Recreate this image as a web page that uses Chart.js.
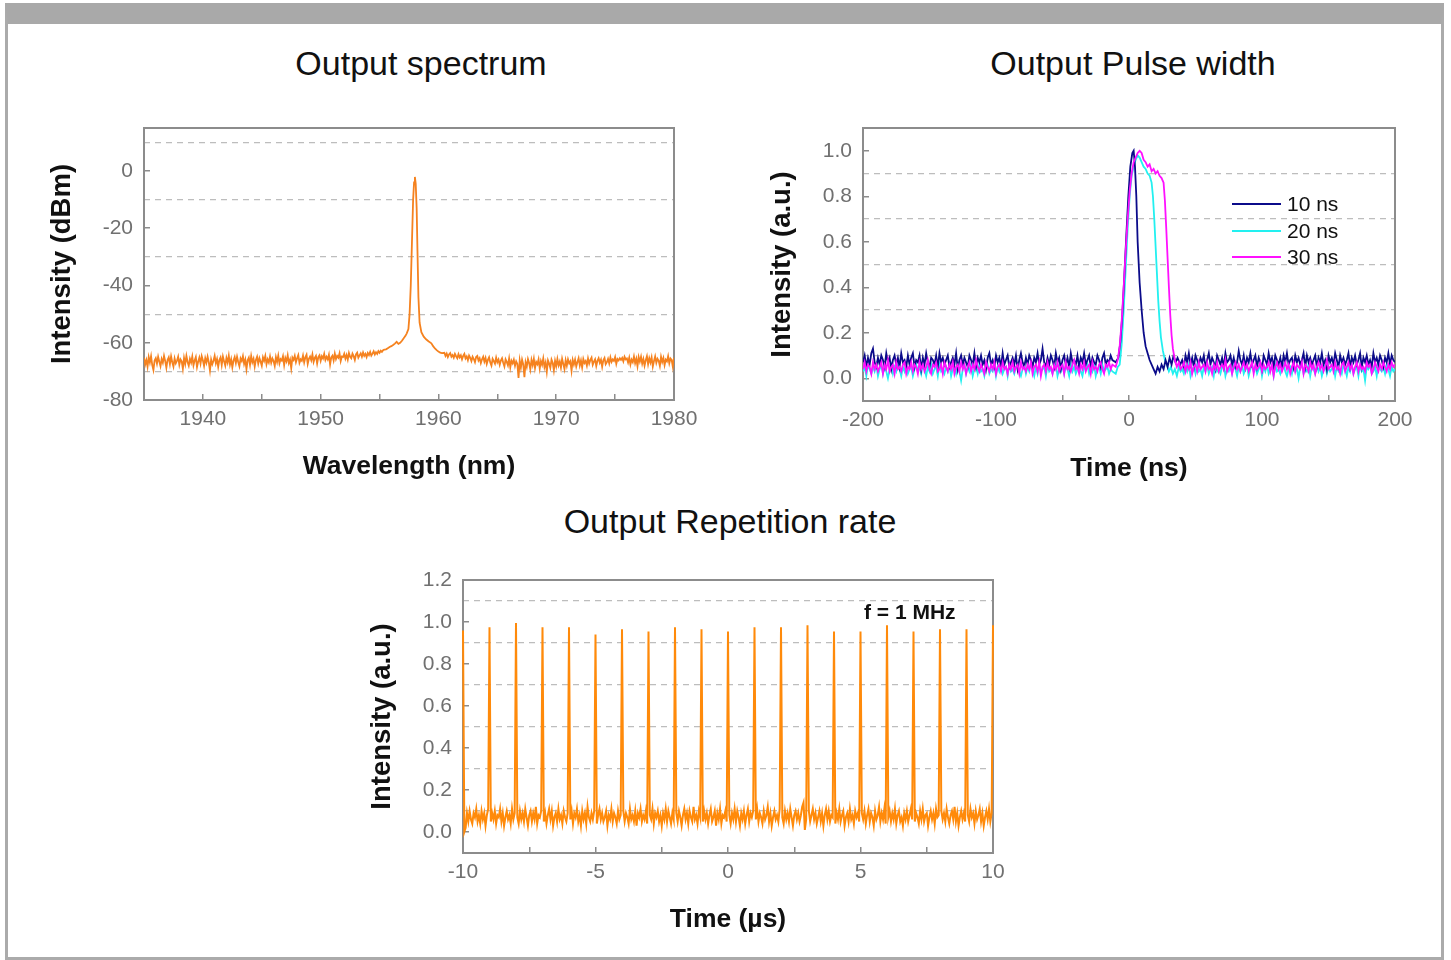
<!DOCTYPE html>
<html>
<head>
<meta charset="utf-8">
<script src="https://cdn.jsdelivr.net/npm/chart.js@4.4.1/dist/chart.umd.min.js"></script>
<style>
  body { margin: 0; width: 1451px; height: 960px; overflow: hidden; background: #fff;
         font-family: "Liberation Sans", Arial, Helvetica, sans-serif; position: relative; }
  #frame { position: absolute; left: 5px; top: 3px; width: 1433px; height: 933px;
           border: 3px solid #ababab; border-top: 21px solid #a9a9a9; }
  canvas { position: absolute; }
  .title { position: absolute; width: 600px; text-align: center; font-size: 34px; line-height: 34px; color: #111; }
  #legend { position: absolute; left: 1232px; top: 191px; font-size: 21px; color: #111; }
  #legend .row { display: flex; align-items: center; height: 26.5px; }
  #legend .swatch { width: 49px; height: 2px; margin-right: 6px; }
  #note { position: absolute; left: 864px; top: 601px; font-size: 21px; line-height: 21px; font-weight: bold; color: #111; }
</style>
</head>
<body>
<div id="frame"></div>
<div class="title" style="left:121px;top:46px">Output spectrum</div>
<div class="title" style="left:833px;top:46px">Output Pulse width</div>
<div class="title" style="left:430px;top:504px">Output Repetition rate</div>
<canvas id="spectrum" width="720" height="404" style="left:0;top:98px"></canvas>
<canvas id="pulse" width="731" height="404" style="left:720px;top:98px"></canvas>
<canvas id="reprate" width="740" height="410" style="left:300px;top:550px"></canvas>
<div id="legend"></div>
<div id="note">f = 1 MHz</div>

<script>
// ---------- output spectrum (dBm vs nm) ----------
const specXMajor = [1940, 1950, 1960, 1970, 1980];
const specXMinor = [1935, 1945, 1955, 1965, 1975];
const specYTicks = [-80, -60, -40, -20, 0];
const specYGrid = [-70, -50, -30, -10, 10];

const specStep = 0.1;
const specLeftStart = 1935;
const specLeft = [
  -65.2, -67.6, -66.1, -68.4, -65.0, -66.9, -64.7, -67.8, -69.5, -66.2,
  -65.4, -67.3, -64.9, -66.6, -68.2, -65.7, -67.0, -64.6, -66.4, -68.7,
  -66.0, -65.1, -67.5, -64.8, -66.8, -68.3, -65.5, -67.2, -66.3, -64.9,
  -67.7, -65.8, -66.5, -69.1, -65.3, -67.4, -64.6, -66.7, -68.0, -65.6,
  -66.9, -64.8, -67.9, -66.2, -65.0, -68.5, -66.6, -65.2, -67.3, -64.7,
  -66.1, -68.1, -65.4, -67.0, -64.9, -66.8, -69.7, -65.9, -67.5, -66.3,
  -64.6, -67.2, -65.7, -68.4, -66.0, -65.1, -67.8, -64.8, -66.5, -68.0,
  -65.3, -66.9, -64.5, -67.6, -65.8, -68.6, -66.2, -65.0, -67.1, -64.9,
  -66.7, -68.2, -65.5, -66.4, -64.7, -67.4, -65.9, -69.2, -66.1, -65.2,
  -67.7, -64.6, -66.8, -65.6, -68.3, -66.0, -64.9, -67.3, -65.4, -66.6,
  -68.0, -65.1, -66.3, -64.6, -67.5, -65.8, -66.9, -64.8, -67.0, -65.5,
  -66.4, -68.1, -65.0, -66.7, -64.5, -67.2, -65.7, -66.2, -64.7, -67.8,
  -65.3, -66.5, -64.4, -67.1, -65.9, -68.9, -65.2, -66.0, -64.6, -66.8,
  -65.4, -64.3, -67.0, -65.8, -66.3, -64.5, -66.9, -65.1, -64.2, -67.4,
  -65.6, -64.8, -66.1, -64.1, -66.7, -65.3, -64.6, -67.2, -65.0, -64.4,
  -66.3, -64.7, -65.5, -63.9, -66.0, -64.9, -65.8, -64.2, -67.6, -65.1,
  -64.5, -66.2, -63.8, -65.7, -64.6, -65.2, -63.7, -66.4, -64.8, -65.0,
  -63.9, -65.6, -64.3, -65.9, -63.6, -64.9, -65.4, -63.8, -64.7, -66.0,
  -64.1, -63.5, -65.2, -64.4, -63.7, -64.9, -63.4, -64.6, -63.9, -65.0,
  -63.6, -64.3, -63.2, -64.5, -63.8, -63.0, -64.1, -63.3, -63.9, -62.9,
  -63.5, -62.8, -63.2, -62.6, -62.4
];
const specPeakX = [1955.55, 1955.7, 1955.85, 1956.0, 1956.15, 1956.3, 1956.45, 1956.6, 1956.75, 1956.9,
  1957.05, 1957.2, 1957.3, 1957.45, 1957.55, 1957.65, 1957.75, 1957.85, 1957.93, 1958.0,
  1958.07, 1958.15, 1958.22, 1958.3, 1958.4, 1958.55, 1958.75, 1958.95, 1959.15, 1959.4,
  1959.55, 1959.7, 1959.85, 1960.0, 1960.15, 1960.3];
const specPeakY = [-62.3, -61.9, -61.5, -61.2, -60.8, -60.3, -59.7, -60.4, -60.0, -59.3,
  -58.4, -57.6, -56.8, -55.2, -50.0, -40.0, -25.0, -10.0, -4.0, -2.1,
  -4.5, -13.0, -28.0, -44.0, -53.0, -56.3, -57.9, -58.8, -59.5, -60.2,
  -61.2, -62.0, -62.6, -63.1, -63.5, -63.6];
const specRightStart = 1960.5;
const specRight = [
  -63.5, -64.6, -63.8, -65.0, -64.1, -63.6, -64.9, -64.3, -65.2, -63.9,
  -64.7, -65.4, -64.0, -65.1, -64.4, -65.8, -64.6, -63.9, -65.5, -64.8,
  -66.1, -64.5, -65.3, -66.4, -64.9, -65.7, -66.8, -65.0, -64.6, -66.2,
  -65.4, -67.1, -65.8, -64.9, -66.6, -65.3, -67.4, -66.0, -65.1, -66.9,
  -68.0, -65.6, -66.4, -67.3, -65.2, -66.8, -65.9, -67.7, -66.2, -65.4,
  -67.0, -68.3, -65.8, -66.7, -67.9, -65.5, -68.6, -66.3, -67.2, -65.9,
  -68.1, -66.5, -67.4, -72.3, -66.2, -68.7, -65.9, -67.6, -72.0, -66.8,
  -68.4, -65.7, -67.1, -69.3, -66.0, -67.8, -65.6, -68.9, -66.7, -67.5,
  -65.8, -69.0, -66.4, -67.7, -65.5, -68.5, -66.9, -70.1, -66.2, -67.3,
  -68.8, -65.9, -67.0, -69.6, -66.3, -68.2, -65.7, -67.9, -66.6, -68.7,
  -65.6, -67.4, -69.2, -66.1, -68.0, -65.8, -67.2, -66.5, -69.8, -66.0,
  -67.6, -65.9, -68.3, -66.7, -65.4, -67.9, -66.2, -68.6, -65.7, -67.1,
  -66.4, -68.0, -65.5, -67.3, -66.0, -65.2, -67.7, -66.6, -65.8, -68.1,
  -66.3, -65.4, -67.0, -65.9, -68.4, -66.1, -65.3, -67.5, -66.8, -65.6,
  -67.2, -65.1, -66.7, -65.8, -66.3, -65.0, -67.4, -65.7, -66.2, -65.4,
  -66.0, -65.3, -66.5, -64.9, -65.8, -65.5, -66.9, -65.2, -67.6, -65.9,
  -66.8, -64.8, -67.1, -65.6, -68.2, -65.0, -66.6, -64.9, -67.3, -65.7,
  -68.0, -66.1, -64.7, -67.5, -65.4, -66.9, -65.1, -68.3, -66.4, -64.8,
  -67.0, -65.6, -66.3, -68.1, -64.9, -66.7, -65.3, -67.8, -65.9, -66.5,
  -64.7, -67.2, -65.5, -66.0, -68.4, -65.2
];

// ---------- output pulse width (a.u. vs ns) ----------
const pulseXMajor = [-200, -100, 0, 100, 200];
const pulseXMinor = [-150, -50, 50, 150];
const pulseYTicks = [0, 0.2, 0.4, 0.6, 0.8, 1.0];
const pulseYGrid = [0.1, 0.3, 0.5, 0.7, 0.9];
const pulseLabels = ['10 ns', '20 ns', '30 ns'];

const pulseStep = 1.25;
const pulseLeftStart = -200;
const pulseRightStart = 40;

const navyLeft = [
  0.07, 0.10, 0.05, 0.09, 0.06, 0.11, 0.13, 0.07, 0.05, 0.09,
  0.06, 0.10, 0.08, 0.05, 0.11, 0.07, 0.09, 0.04, 0.08, 0.10,
  0.06, 0.09, 0.05, 0.11, 0.07, 0.08, 0.05, 0.10, 0.06, 0.09,
  0.11, 0.05, 0.08, 0.07, 0.10, 0.04, 0.09, 0.06, 0.11, 0.07,
  0.05, 0.09, 0.08, 0.06, 0.10, 0.05, 0.11, 0.07, 0.09, 0.06,
  0.08, 0.10, 0.05, 0.07, 0.09, 0.06, 0.11, 0.04, 0.08, 0.10,
  0.06, 0.09, 0.07, 0.05, 0.10, 0.08, 0.06, 0.11, 0.05, 0.09,
  0.07, 0.10, 0.06, 0.08, 0.04, 0.09, 0.11, 0.06, 0.08, 0.05,
  0.10, 0.07, 0.09, 0.05, 0.11, 0.06, 0.08, 0.10, 0.05, 0.07,
  0.09, 0.06, 0.10, 0.04, 0.08, 0.11, 0.07, 0.05, 0.09, 0.06,
  0.10, 0.08, 0.05, 0.09, 0.07, 0.11, 0.06, 0.08, 0.13, 0.07,
  0.05, 0.09, 0.06, 0.10, 0.08, 0.05, 0.11, 0.07, 0.09, 0.04,
  0.08, 0.10, 0.06, 0.09, 0.05, 0.11, 0.07, 0.08, 0.06, 0.10,
  0.05, 0.09, 0.07, 0.11, 0.06, 0.08, 0.10, 0.05, 0.09, 0.07,
  0.06, 0.10, 0.08, 0.05, 0.09, 0.11, 0.06, 0.08, 0.07, 0.10,
  0.08
];
const navyPulseX = [-10, -8, -6.5, -5, -3.5, -2, -0.5, 1, 2.5, 3.5, 4.5, 5.5, 6.5, 8, 9.5, 11, 12.5, 14, 15.5, 17,
  18.5, 20, 21.5, 23, 24.5, 26, 27.5, 29, 30.5, 32, 33.5, 35, 36.5, 38.5];
const navyPulseY = [0.07, 0.09, 0.16, 0.28, 0.45, 0.63, 0.80, 0.93, 0.99, 1.0, 0.93, 0.80, 0.60, 0.42, 0.30, 0.20, 0.14, 0.11, 0.08, 0.06,
  0.04, 0.02, 0.05, 0.03, 0.06, 0.04, 0.08, 0.05, 0.09, 0.06, 0.10, 0.07, 0.09, 0.06];
const navyRight = [
  0.08, 0.05, 0.10, 0.07, 0.11, 0.06, 0.09, 0.05, 0.10, 0.08,
  0.06, 0.09, 0.07, 0.10, 0.05, 0.08, 0.11, 0.06, 0.09, 0.07,
  0.04, 0.10, 0.08, 0.06, 0.09, 0.05, 0.11, 0.07, 0.08, 0.10,
  0.06, 0.09, 0.05, 0.07, 0.12, 0.08, 0.06, 0.10, 0.05, 0.09,
  0.07, 0.11, 0.06, 0.08, 0.10, 0.05, 0.09, 0.07, 0.04, 0.10,
  0.08, 0.06, 0.11, 0.07, 0.09, 0.05, 0.10, 0.08, 0.06, 0.09,
  0.05, 0.10, 0.07, 0.11, 0.06, 0.08, 0.09, 0.05, 0.10, 0.07,
  0.09, 0.06, 0.08, 0.11, 0.05, 0.10, 0.07, 0.09, 0.06, 0.08,
  0.10, 0.05, 0.09, 0.07, 0.11, 0.06, 0.08, 0.04, 0.10, 0.07,
  0.09, 0.06, 0.11, 0.08, 0.05, 0.10, 0.07, 0.09, 0.06, 0.08,
  0.11, 0.05, 0.09, 0.07, 0.10, 0.06, 0.08, 0.11, 0.05, 0.09,
  0.07, 0.10, 0.06, 0.08, 0.05, 0.11, 0.07, 0.09, 0.06, 0.10,
  0.08, 0.05, 0.09, 0.07, 0.11, 0.06, 0.10, 0.08, 0.07
];

const cyanLeft = [
  0.03, 0.05, 0.01, 0.06, 0.04, 0.02, 0.05, 0.03, 0.06, 0.01,
  0.04, 0.06, 0.02, 0.05, 0.03, 0.00, 0.04, 0.06, 0.02, 0.05,
  0.03, 0.06, 0.04, 0.01, 0.05, 0.03, 0.06, 0.02, 0.04, 0.05,
  0.01, 0.04, 0.06, 0.03, 0.05, 0.02, 0.06, 0.04, 0.01, 0.05,
  0.03, 0.06, 0.02, 0.04, 0.05, 0.01, 0.06, 0.03, 0.04, 0.02,
  0.05, 0.03, 0.06, 0.01, 0.04, 0.05, 0.02, 0.06, 0.03, -0.01,
  0.04, 0.06, 0.02, 0.05, 0.03, 0.06, 0.01, 0.04, 0.05, 0.02,
  0.06, 0.03, 0.04, 0.01, 0.05, 0.06, 0.02, 0.04, 0.03, 0.06,
  0.01, 0.05, 0.03, 0.06, 0.02, 0.04, 0.05, 0.01, 0.06, 0.03,
  0.04, 0.02, 0.05, 0.06, 0.03, 0.01, 0.04, 0.06, 0.02, 0.05,
  0.03, 0.06, 0.04, 0.01, 0.05, 0.02, 0.06, 0.03, 0.04, 0.05,
  0.01, 0.06, 0.03, 0.04, 0.02, 0.05, 0.06, 0.01, 0.04, 0.03,
  0.06, 0.02, 0.05, 0.04, 0.01, 0.06, 0.03, 0.05, 0.02, 0.04,
  0.06, 0.03, 0.01, 0.05, 0.04, 0.06, 0.02, 0.05, 0.03, 0.06,
  0.01, 0.04, 0.05, 0.02, 0.06, 0.03, 0.04, 0.05, 0.02, 0.04,
  0.03
];
const cyanPulseX = [-10, -8.5, -7, -5.5, -4, -2.5, -1, 0.5, 2, 3.5, 5, 6.5, 8, 9.5, 11, 12.5, 14, 15.5, 17, 18,
  19, 20, 21, 22, 23, 24, 25.5, 27, 28.5, 30, 31.5, 33, 34.5, 36, 37.5, 38.75];
const cyanPulseY = [0.02, 0.05, 0.06, 0.15, 0.30, 0.48, 0.66, 0.80, 0.89, 0.93, 0.96, 0.98, 0.97, 0.95, 0.93, 0.92, 0.90, 0.89, 0.86, 0.80,
  0.70, 0.58, 0.46, 0.34, 0.25, 0.18, 0.12, 0.08, 0.06, 0.03, 0.05, 0.02, 0.04, 0.01, 0.05, 0.03];
const cyanRight = [
  0.04, 0.02, 0.05, 0.03, 0.06, 0.01, 0.04, 0.05, 0.02, 0.06,
  0.03, 0.04, 0.01, 0.05, 0.03, 0.06, 0.02, 0.04, 0.05, 0.01,
  0.06, 0.03, 0.04, 0.02, 0.05, 0.06, 0.01, 0.04, 0.03, 0.05,
  0.02, 0.06, 0.04, 0.01, 0.05, 0.03, 0.06, 0.02, 0.04, 0.05,
  0.01, 0.04, 0.06, 0.03, 0.05, 0.02, 0.04, 0.06, 0.01, 0.05,
  0.03, 0.06, 0.02, 0.04, 0.05, 0.01, 0.06, 0.03, 0.04, 0.02,
  0.05, 0.06, 0.03, 0.01, 0.04, 0.05, 0.02, 0.06, 0.03, 0.04,
  0.00, 0.05, 0.06, 0.02, 0.04, 0.03, 0.06, 0.01, 0.05, 0.04,
  0.02, 0.06, 0.03, 0.05, 0.01, 0.04, 0.06, 0.02, 0.05, 0.03,
  0.04, 0.06, 0.01, 0.05, 0.03, 0.04, 0.02, 0.06, 0.04, 0.01,
  0.05, 0.03, 0.06, 0.02, 0.04, 0.05, 0.01, 0.06, 0.03, 0.04,
  -0.01, 0.05, 0.04, 0.06, 0.02, 0.03, 0.05, 0.01, 0.06, 0.04,
  0.03, 0.05, 0.02, 0.06, 0.04, 0.01, 0.05, 0.03, 0.04
];

const magentaLeft = [
  0.04, 0.07, 0.03, 0.06, 0.05, 0.02, 0.07, 0.04, 0.06, 0.03,
  0.05, 0.07, 0.02, 0.06, 0.04, 0.08, 0.03, 0.05, 0.06, 0.02,
  0.07, 0.04, 0.05, 0.03, 0.06, 0.07, 0.02, 0.05, 0.04, 0.07,
  0.03, 0.06, 0.05, 0.02, 0.07, 0.04, 0.06, 0.03, 0.05, 0.08,
  0.04, 0.02, 0.06, 0.05, 0.07, 0.03, 0.04, 0.06, 0.02, 0.07,
  0.05, 0.03, 0.06, 0.04, 0.07, 0.02, 0.05, 0.06, 0.03, 0.07,
  0.04, 0.06, 0.02, 0.05, 0.07, 0.03, 0.06, 0.04, 0.08, 0.05,
  0.03, 0.06, 0.04, 0.02, 0.07, 0.05, 0.03, 0.06, 0.04, 0.07,
  0.02, 0.05, 0.06, 0.03, 0.07, 0.04, 0.05, 0.02, 0.06, 0.04,
  0.07, 0.03, 0.05, 0.06, 0.02, 0.07, 0.04, 0.05, 0.03, 0.06,
  0.04, 0.07, 0.02, 0.05, 0.06, 0.03, 0.07, 0.01, 0.05, 0.06,
  0.03, 0.07, 0.04, 0.05, 0.02, 0.06, 0.04, 0.07, 0.03, 0.05,
  0.06, 0.02, 0.07, 0.04, 0.05, 0.03, 0.06, 0.08, 0.04, 0.05,
  0.02, 0.06, 0.04, 0.07, 0.03, 0.05, 0.06, 0.02, 0.07, 0.04,
  0.05, 0.03, 0.06, 0.07, 0.04, 0.02, 0.06, 0.05, 0.07, 0.04,
  0.06
];
const magentaPulseX = [-10, -8.5, -7, -5.5, -4, -2.5, -1, 0.5, 2, 3.5, 5, 6.5, 8, 9.5, 11, 12.5, 14, 15.5, 17, 18.5,
  20, 21.5, 23, 24.5, 26, 27, 28, 29, 30, 31, 32, 33, 34.5, 36, 37.5, 38.75];
const magentaPulseY = [0.05, 0.08, 0.14, 0.25, 0.40, 0.56, 0.70, 0.82, 0.90, 0.95, 0.97, 0.99, 1.0, 0.99, 0.96, 0.95, 0.93, 0.94, 0.91, 0.92,
  0.90, 0.91, 0.89, 0.88, 0.86, 0.78, 0.66, 0.53, 0.40, 0.28, 0.19, 0.13, 0.08, 0.05, 0.07, 0.04];
const magentaRight = [
  0.05, 0.07, 0.03, 0.06, 0.04, 0.07, 0.02, 0.05, 0.06, 0.03,
  0.07, 0.04, 0.05, 0.06, 0.03, 0.07, 0.04, 0.05, 0.02, 0.06,
  0.04, 0.07, 0.03, 0.05, 0.06, 0.04, 0.08, 0.03, 0.05, 0.06,
  0.02, 0.05, 0.07, 0.04, 0.06, 0.03, 0.05, 0.07, 0.04, 0.06,
  0.03, 0.05, 0.07, 0.02, 0.06, 0.04, 0.05, 0.07, 0.03, 0.06,
  0.04, 0.05, 0.07, 0.03, 0.06, 0.01, 0.05, 0.07, 0.04, 0.06,
  0.03, 0.05, 0.07, 0.04, 0.06, 0.02, 0.05, 0.07, 0.03, 0.06,
  0.05, 0.04, 0.07, 0.02, 0.06, 0.05, 0.03, 0.07, 0.04, 0.06,
  0.02, 0.05, 0.07, 0.04, 0.06, 0.03, 0.05, 0.08, 0.04, 0.05,
  0.06, 0.03, 0.07, 0.04, 0.05, 0.02, 0.06, 0.07, 0.03, 0.05,
  0.07, 0.04, 0.06, 0.02, 0.05, 0.07, 0.03, 0.06, 0.04, 0.05,
  0.03, 0.07, 0.05, 0.06, 0.02, 0.04, 0.07, 0.05, 0.03, 0.06,
  0.04, 0.07, 0.05, 0.03, 0.06, 0.04, 0.07, 0.05, 0.06
];

// ---------- output repetition rate (a.u. vs us) ----------
const repXMajor = [-10, -5, 0, 5, 10];
const repXMinor = [-7.5, -2.5, 2.5, 7.5];
const repYTicks = [0, 0.2, 0.4, 0.6, 0.8, 1.0, 1.2];
const repYGrid = [0.1, 0.3, 0.5, 0.7, 0.9, 1.1];

const repStep = 0.05;
const repPeakX = [-10, -9, -8, -7, -6, -5, -4, -3, -2, -1, 0, 1, 2, 3, 4, 5, 6, 7, 8, 9, 10];
const repPeaks = [0.96, 0.975, 0.995, 0.975, 0.975, 0.94, 0.965, 0.955, 0.975, 0.965, 0.955,
  0.975, 0.975, 0.985, 0.955, 0.955, 0.985, 0.955, 0.965, 0.965, 0.985];
// baseline samples between consecutive pulses (19 per microsecond)
const repNoise = [
  [0.00, 0.02, 0.09, 0.05, 0.10, 0.06, 0.04, 0.09, 0.07, 0.11, 0.05, 0.08, 0.04, 0.10, 0.06, 0.09, 0.03, 0.08, 0.11],
  [0.05, 0.09, 0.06, 0.10, 0.04, 0.08, 0.07, 0.11, 0.05, 0.09, 0.03, 0.07, 0.10, 0.06, 0.08, 0.04, 0.11, 0.06, 0.09],
  [0.07, 0.04, 0.10, 0.06, 0.09, 0.05, 0.11, 0.07, 0.03, 0.08, 0.10, 0.05, 0.09, 0.06, 0.12, 0.04, 0.08, 0.07, 0.10],
  [0.05, 0.09, 0.04, 0.08, 0.11, 0.06, 0.10, 0.03, 0.07, 0.09, 0.05, 0.11, 0.06, 0.08, 0.04, 0.10, 0.07, 0.05, 0.09],
  [0.06, 0.10, 0.04, 0.09, 0.07, 0.11, 0.05, 0.08, 0.03, 0.10, 0.06, 0.09, 0.04, 0.12, 0.07, 0.05, 0.09, 0.06, 0.10],
  [0.04, 0.08, 0.11, 0.06, 0.09, 0.05, 0.07, 0.10, 0.03, 0.08, 0.06, 0.11, 0.05, 0.09, 0.07, 0.04, 0.10, 0.06, 0.08],
  [0.10, 0.05, 0.09, 0.07, 0.04, 0.11, 0.06, 0.08, 0.05, 0.10, 0.03, 0.09, 0.07, 0.11, 0.05, 0.08, 0.06, 0.10, 0.04],
  [0.08, 0.06, 0.11, 0.04, 0.09, 0.07, 0.10, 0.05, 0.08, 0.03, 0.09, 0.06, 0.11, 0.05, 0.10, 0.07, 0.04, 0.09, 0.06],
  [0.09, 0.05, 0.10, 0.07, 0.03, 0.08, 0.11, 0.06, 0.09, 0.04, 0.10, 0.07, 0.05, 0.12, 0.06, 0.08, 0.04, 0.10, 0.07],
  [0.05, 0.10, 0.06, 0.09, 0.04, 0.08, 0.11, 0.05, 0.07, 0.10, 0.03, 0.09, 0.06, 0.11, 0.04, 0.08, 0.07, 0.10, 0.05],
  [0.08, 0.04, 0.09, 0.06, 0.11, 0.05, 0.10, 0.07, 0.03, 0.09, 0.06, 0.10, 0.04, 0.08, 0.11, 0.05, 0.09, 0.07, 0.10],
  [0.06, 0.11, 0.05, 0.09, 0.07, 0.04, 0.10, 0.06, 0.08, 0.12, 0.05, 0.09, 0.03, 0.07, 0.10, 0.06, 0.08, 0.05, 0.11],
  [0.07, 0.04, 0.10, 0.06, 0.09, 0.05, 0.11, 0.07, 0.03, 0.08, 0.10, 0.06, 0.09, 0.05, 0.08, 0.12, 0.14, 0.01, 0.06],
  [0.10, 0.05, 0.08, 0.11, 0.06, 0.09, 0.04, 0.07, 0.10, 0.05, 0.09, 0.03, 0.08, 0.11, 0.06, 0.10, 0.05, 0.08, 0.07],
  [0.04, 0.09, 0.06, 0.11, 0.05, 0.08, 0.10, 0.03, 0.07, 0.09, 0.05, 0.11, 0.06, 0.08, 0.04, 0.10, 0.07, 0.09, 0.05],
  [0.09, 0.06, 0.10, 0.04, 0.08, 0.11, 0.05, 0.09, 0.07, 0.03, 0.10, 0.06, 0.08, 0.12, 0.05, 0.09, 0.06, 0.11, 0.04],
  [0.07, 0.10, 0.05, 0.09, 0.06, 0.11, 0.04, 0.08, 0.10, 0.05, 0.07, 0.03, 0.09, 0.06, 0.10, 0.05, 0.08, 0.11, 0.06],
  [0.05, 0.09, 0.07, 0.04, 0.10, 0.06, 0.11, 0.05, 0.08, 0.09, 0.03, 0.07, 0.10, 0.06, 0.09, 0.04, 0.11, 0.07, 0.08],
  [0.10, 0.06, 0.09, 0.05, 0.11, 0.07, 0.04, 0.08, 0.10, 0.06, 0.12, 0.05, 0.09, 0.03, 0.07, 0.10, 0.06, 0.09, 0.05],
  [0.08, 0.05, 0.11, 0.07, 0.09, 0.04, 0.10, 0.06, 0.08, 0.11, 0.05, 0.09, 0.03, 0.07, 0.10, 0.06, 0.11, 0.05, 0.09]
];

// ---------- helpers ----------
const FONT = '"Liberation Sans", Arial, Helvetica, sans-serif';
Chart.defaults.font.family = FONT;
const FRAME = '#8c8c8c';
const GRID = '#bdbdbd';
const TICK_TEXT = '#707070';

const gridSeries = (start, step, values) => values.map((y, i) => ({x: +(start + i * step).toFixed(3), y}));
const pairSeries = (xs, ys) => xs.map((x, i) => ({x, y: ys[i]}));
const setTicks = vals => axis => { axis.ticks = vals.map(v => ({value: v})); };
const fixWidth = w => axis => { axis.width = w; };
const fixHeight = h => axis => { axis.height = h; };

function buildScales(p) {
  const tickFont = {size: 21};
  return {
    x: {
      type: 'linear', position: 'bottom', min: p.xMin, max: p.xMax,
      afterBuildTicks: setTicks(p.xMajor.concat(p.xMinor).sort((a, b) => a - b)),
      afterFit: fixHeight(p.xHeight),
      ticks: {color: TICK_TEXT, font: tickFont, padding: 13, maxRotation: 0, autoSkip: false,
              callback: v => p.xMajor.includes(v) ? String(v) : ''},
      grid: {drawOnChartArea: false, tickLength: -6, color: FRAME, lineWidth: 1.5},
      border: {color: FRAME, width: 2},
      title: {display: true, text: p.xTitle, color: '#111', font: {size: 26.5, weight: 'bold'},
              padding: {top: 0, bottom: p.xTitlePad}}
    },
    y: {
      type: 'linear', position: 'left', min: p.yMin, max: p.yMax,
      afterBuildTicks: setTicks(p.yTicks),
      afterFit: fixWidth(p.yWidth),
      ticks: {color: TICK_TEXT, font: tickFont, padding: 17, autoSkip: false, callback: p.yFmt},
      grid: {drawOnChartArea: false, tickLength: -6, color: FRAME, lineWidth: 1.5},
      border: {color: FRAME, width: 2},
      title: {display: true, text: p.yTitle, color: '#111', font: {size: 27.5, weight: 'bold'},
              padding: {top: p.yTitlePad, bottom: 0}}
    },
    yGrid: {
      type: 'linear', position: 'left', min: p.yMin, max: p.yMax,
      afterBuildTicks: setTicks(p.yGrid),
      afterFit: fixWidth(0),
      ticks: {display: false},
      grid: {drawTicks: false, color: GRID, lineWidth: 1.2},
      border: {display: false, dash: [6, 5]}
    },
    xTop: {
      type: 'linear', position: 'top', min: 0, max: 1,
      afterFit: fixHeight(0), ticks: {display: false}, grid: {display: false},
      border: {color: FRAME, width: 2}
    },
    yRight: {
      type: 'linear', position: 'right', min: 0, max: 1,
      afterFit: fixWidth(0), ticks: {display: false}, grid: {display: false},
      border: {color: FRAME, width: 2}
    }
  };
}

const baseOptions = (padding, scales) => ({
  responsive: false, devicePixelRatio: 1, animation: false,
  layout: {padding},
  plugins: {legend: {display: false}, tooltip: {enabled: false}, title: {display: false}},
  elements: {point: {radius: 0}, line: {tension: 0}},
  scales
});

// ---------- chart 1: spectrum ----------
const spectrumData = [
  ...gridSeries(specLeftStart, specStep, specLeft),
  ...pairSeries(specPeakX, specPeakY),
  ...gridSeries(specRightStart, specStep, specRight)
];
new Chart(document.getElementById('spectrum'), {
  type: 'line',
  data: {datasets: [{data: spectrumData, borderColor: '#f5821f', borderWidth: 1.8, xAxisID: 'x', yAxisID: 'y'}]},
  options: baseOptions({left: 0, top: 30, right: 46, bottom: 0}, buildScales({
    xMin: 1935, xMax: 1980, xMajor: specXMajor, xMinor: specXMinor, xHeight: 102,
    xTitle: 'Wavelength (nm)', xTitlePad: 19,
    yMin: -80, yMax: 15, yTicks: specYTicks, yGrid: specYGrid, yWidth: 144,
    yTitle: 'Intensity (dBm)', yTitlePad: 46, yFmt: v => String(v)
  }))
});

// ---------- chart 2: pulse width ----------
const pulseSeries = (left, px, py, right) => [
  ...gridSeries(pulseLeftStart, pulseStep, left),
  ...pairSeries(px, py),
  ...gridSeries(pulseRightStart, pulseStep, right)
];
const pulseChart = new Chart(document.getElementById('pulse'), {
  type: 'line',
  data: {datasets: [
    {label: pulseLabels[0], data: pulseSeries(navyLeft, navyPulseX, navyPulseY, navyRight),
     borderColor: '#0b0b8a', borderWidth: 1.8, order: 2, xAxisID: 'x', yAxisID: 'y'},
    {label: pulseLabels[1], data: pulseSeries(cyanLeft, cyanPulseX, cyanPulseY, cyanRight),
     borderColor: '#22f0f0', borderWidth: 1.8, order: 3, xAxisID: 'x', yAxisID: 'y'},
    {label: pulseLabels[2], data: pulseSeries(magentaLeft, magentaPulseX, magentaPulseY, magentaRight),
     borderColor: '#ff10ff', borderWidth: 1.8, order: 1, xAxisID: 'x', yAxisID: 'y'}
  ]},
  options: baseOptions({left: 0, top: 30, right: 56, bottom: 0}, buildScales({
    xMin: -200, xMax: 200, xMajor: pulseXMajor, xMinor: pulseXMinor, xHeight: 101,
    xTitle: 'Time (ns)', xTitlePad: 17,
    yMin: -0.1, yMax: 1.1, yTicks: pulseYTicks, yGrid: pulseYGrid, yWidth: 143,
    yTitle: 'Intensity (a.u.)', yTitlePad: 46, yFmt: v => v.toFixed(1)
  }))
});

// legend built from the pulse datasets
const legend = document.getElementById('legend');
pulseChart.data.datasets.forEach(ds => {
  const row = document.createElement('div');
  row.className = 'row';
  const sw = document.createElement('span');
  sw.className = 'swatch';
  sw.style.background = ds.borderColor;
  const txt = document.createElement('span');
  txt.textContent = ds.label;
  row.appendChild(sw);
  row.appendChild(txt);
  legend.appendChild(row);
});

// ---------- chart 3: repetition rate ----------
const repData = [];
repPeakX.forEach((k, i) => {
  repData.push({x: k, y: repPeaks[i]});
  if (i < repNoise.length) {
    repNoise[i].forEach((y, j) => repData.push({x: +(k + (j + 1) * repStep).toFixed(2), y}));
  }
});
new Chart(document.getElementById('reprate'), {
  type: 'line',
  data: {datasets: [{data: repData, borderColor: '#ff8a0a', borderWidth: 2, clip: false, xAxisID: 'x', yAxisID: 'y'}]},
  options: baseOptions({left: 0, top: 30, right: 47, bottom: 0}, buildScales({
    xMin: -10, xMax: 10, xMajor: repXMajor, xMinor: repXMinor, xHeight: 107,
    xTitle: 'Time (µs)', xTitlePad: 24,
    yMin: -0.1, yMax: 1.2, yTicks: repYTicks, yGrid: repYGrid, yWidth: 163,
    yTitle: 'Intensity (a.u.)', yTitlePad: 66, yFmt: v => v.toFixed(1)
  }))
});
</script>
</body>
</html>
